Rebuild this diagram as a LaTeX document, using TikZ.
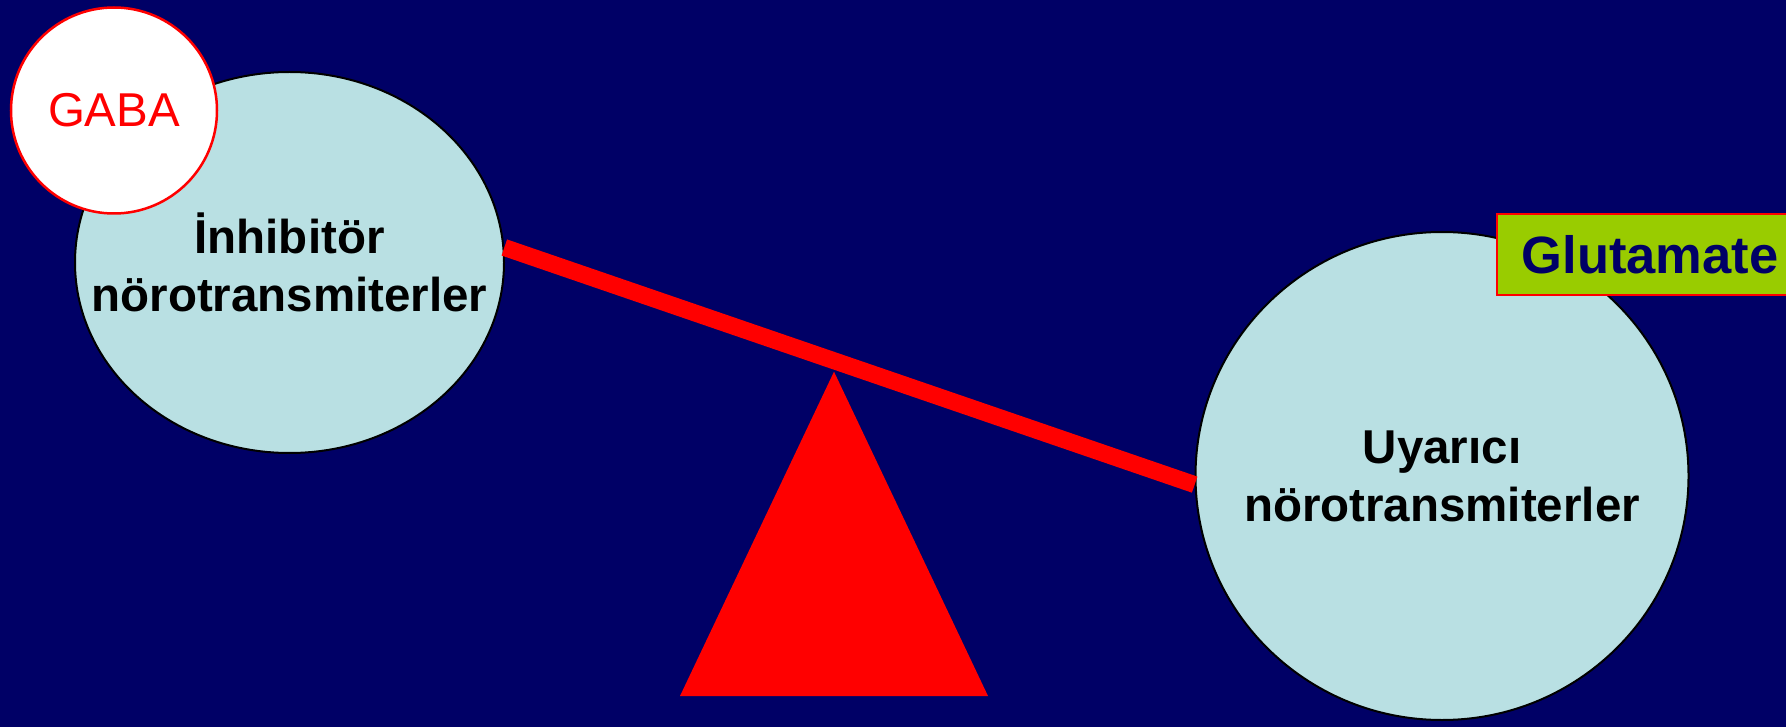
\documentclass[tikz,border=0pt]{standalone}
\usepackage{fontspec}
\setmainfont{Liberation Sans}
\usetikzlibrary{shapes.geometric}
\definecolor{bgnavy}{RGB}{0,0,102}
\definecolor{pale}{RGB}{185,224,227}
\definecolor{lime}{RGB}{153,204,0}
\begin{document}
\begin{tikzpicture}[x=1pt,y=-1pt,
  bubble/.style={ellipse, draw=black, line width=2pt, fill=pale, inner sep=0pt},
  bubbletext/.style={font=\fontsize{47.5}{58}\selectfont\bfseries, align=center,
    text=black, inner sep=0pt},
  tagcircle/.style={circle, draw=red, line width=2.5pt, fill=white, inner sep=0pt,
    minimum size=206pt, text=red, font=\fontsize{47.5}{57}\selectfont},
  tagbox/.style={rectangle, draw=red, line width=2pt, fill=lime, inner sep=0pt,
    minimum width=306pt, minimum height=81pt, text=bgnavy,
    font=\fontsize{52.5}{60}\selectfont\bfseries},
  beam/.style={draw=red, line width=17pt},
  fulcrum/.style={fill=red}]
\useasboundingbox[fill=bgnavy] (0,0) rectangle (1786,727);
% balls
\node[bubble, minimum width=429pt, minimum height=381pt,
  label={[bubbletext, name=inhtext]center:İnhibitör\\nörotransmiterler}] (inh) at (289.5,262.5) {};
\node[bubble, minimum width=493pt, minimum height=488pt,
  label={[bubbletext, name=uyatext]center:Uyarıcı\\nörotransmiterler}] (uya) at (1442,476) {};
% fulcrum
\coordinate (apex) at (834,371.7);
\coordinate (bR) at (988,696);
\coordinate (bL) at (680,696);
\fill[fulcrum] (apex) -- (bR) -- (bL) -- cycle;
% beam
\draw[beam] (inh.4) -- (uya.182.5);
% tags
\node[tagcircle] (gaba) at (114,110.5) {GABA};
\node[tagbox] (glu) at (1650,254.5) {Glutamate};
\end{tikzpicture}
\end{document}
